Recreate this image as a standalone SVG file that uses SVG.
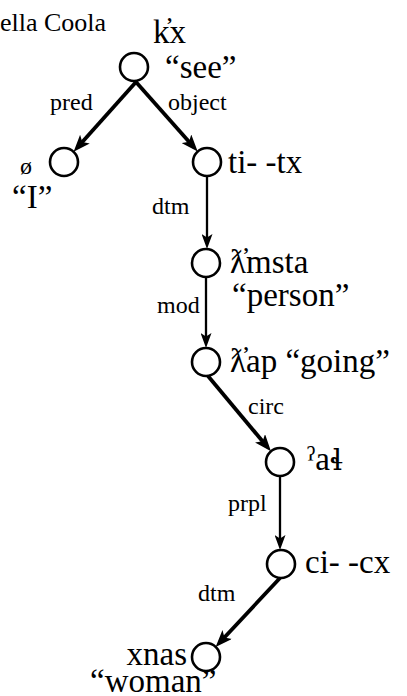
<svg xmlns="http://www.w3.org/2000/svg" width="407" height="696" viewBox="0 0 407 696">
<defs>
<style>
.n{fill:#fff;stroke:#000;stroke-width:2.6}
.t{font-family:"Liberation Serif","DejaVu Serif",serif;font-size:33px;fill:#000}
.l{font-family:"Liberation Serif","DejaVu Serif",serif;font-size:24px;fill:#000}
.h{font-family:"Liberation Serif","DejaVu Serif",serif;font-size:26px;fill:#000}
.ipa{font-family:"DejaVu Serif",serif;font-size:29px}
.e1{stroke:#000;stroke-width:3.8;fill:none;marker-end:url(#ah)}
.e2{stroke:#000;stroke-width:2.3;fill:none;marker-end:url(#ah2)}
</style>
<marker id="ah" markerUnits="userSpaceOnUse" markerWidth="17" markerHeight="13" refX="11" refY="6.5" orient="auto">
<path d="M0,0 L17,6.5 L0,13 L4,6.5 Z" fill="#000"/>
</marker>
<marker id="ah2" markerUnits="userSpaceOnUse" markerWidth="15" markerHeight="11" refX="9" refY="5.5" orient="auto">
<path d="M0,0 L15,5.5 L0,11 L3.5,5.5 Z" fill="#000"/>
</marker>
</defs>
<rect width="407" height="696" fill="#fff"/>
<text class="h" x="0" y="31">ella Coola</text>
<g id="connectors">
<line class="e1" x1="136" y1="82" x2="77.6" y2="147.3"/>
<line class="e1" x1="136" y1="82" x2="193.7" y2="147"/>
<line class="e2" x1="207" y1="176" x2="207" y2="243"/>
<line class="e2" x1="206" y1="277" x2="206" y2="342"/>
<line class="e1" x1="208" y1="376" x2="267.1" y2="446.7"/>
<line class="e2" x1="280" y1="476" x2="280" y2="544"/>
<line class="e1" x1="280" y1="578" x2="219.7" y2="642.5"/>
<text class="l" x="50" y="110">pred</text>
<text class="l" x="168" y="110">object</text>
<text class="l" x="152" y="214">dtm</text>
<text class="l" x="157" y="313">mod</text>
<text class="l" x="248" y="414">circ</text>
<text class="l" x="228" y="511">prpl</text>
<text class="l" x="198" y="601">dtm</text>
</g>
<g id="n-see">
<circle class="n" cx="134" cy="67" r="14"/>
<text class="t" x="153" y="43">k̓x</text>
<text class="t" x="165" y="78">“see”</text>
</g>
<g id="n-I">
<circle class="n" cx="64" cy="162" r="14"/>
<text class="l" x="20" y="174">ø</text>
<text class="t" x="12" y="208">“I”</text>
</g>
<g id="n-titx">
<circle class="n" cx="207" cy="162" r="14"/>
<text class="t" x="228" y="173">ti- -tx</text>
</g>
<g id="n-person">
<circle class="n" cx="206" cy="263" r="14"/>
<text class="t" x="230" y="273">ƛ̓msta</text>
<text class="t" x="232" y="306">“person”</text>
</g>
<g id="n-going">
<circle class="n" cx="206" cy="362" r="14"/>
<text class="t" x="230" y="372">ƛ̓ap “going”</text>
</g>
<g id="n-al">
<circle class="n" cx="280" cy="462" r="14"/>
<text class="t" x="307" y="470">ˀa<tspan class="ipa">ɬ</tspan></text>
</g>
<g id="n-cicx">
<circle class="n" cx="281" cy="564" r="14"/>
<text class="t" x="305" y="573">ci- -cx</text>
</g>
<g id="n-woman">
<circle class="n" cx="206" cy="657" r="14"/>
<text class="t" x="187" y="665" text-anchor="end">xnas</text>
<text class="t" x="90" y="692">“woman”</text>
</g>
</svg>
